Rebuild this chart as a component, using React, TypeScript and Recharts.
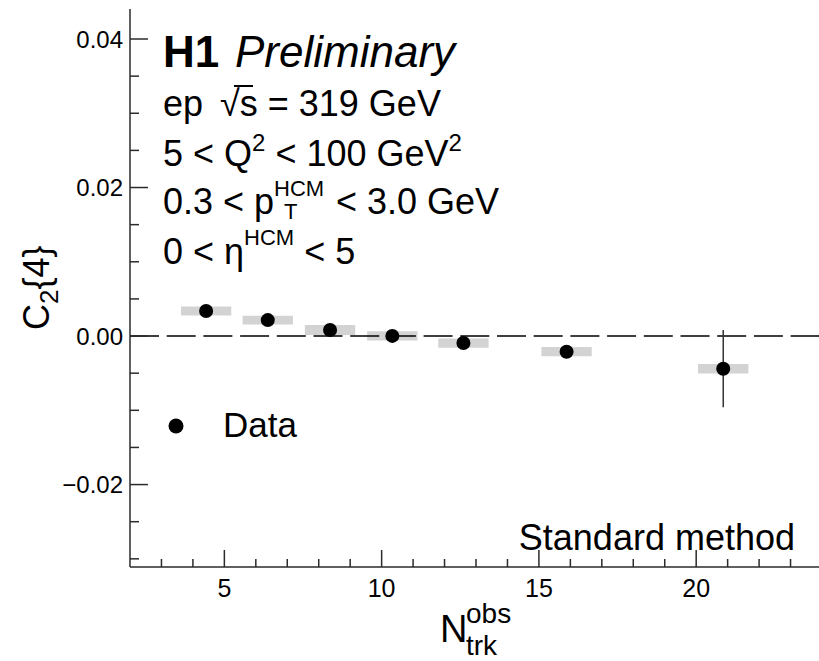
import React from "react";
import { ComposedChart, Scatter, XAxis, YAxis, ErrorBar, ReferenceLine, ReferenceArea } from "recharts";

const nTrk = [4.42, 6.38, 8.36, 10.34, 12.6, 15.88, 20.86];
const c24 = [0.00337, 0.00215, 0.00081, 0.00002, -0.00094, -0.00211, -0.0044];
const statErr = [0.0004, 0.0004, 0.0005, 0.0005, 0.0006, 0.0008, 0.0052];
const sysErr = [0.0006, 0.00058, 0.00067, 0.00062, 0.00062, 0.00062, 0.00065];
const binHalf = [0.8, 0.8, 0.8, 0.8, 0.8, 0.8, 0.8];

// axes
const xTicks = [3, 4, 5, 6, 7, 8, 9, 10, 11, 12, 13, 14, 15, 16, 17, 18, 19, 20, 21, 22, 23];
const xMajor = [5, 10, 15, 20];
const xLabels = ["5", "10", "15", "20"];
const yTicks = [-0.03, -0.025, -0.02, -0.015, -0.01, -0.005, 0, 0.005, 0.01, 0.015, 0.02, 0.025, 0.03, 0.035, 0.04];
const yMajor = [-0.02, 0, 0.02, 0.04];
const yLabels = ["\u22120.02", "0.00", "0.02", "0.04"];

const FONT = "'Liberation Sans', Arial, Helvetica, sans-serif";
const AXIS = "#2b2b2b";

const isMajorY = (v: number) => yMajor.findIndex((m) => Math.abs(m - v) < 1e-9);

function BottomTick({ x, y, payload }: any) {
  const i = xMajor.indexOf(payload.value);
  return (
    <g>
      <line x1={x} x2={x} y1={y} y2={y - (i >= 0 ? 17 : 8)} stroke={AXIS} strokeWidth={1.5} />
      {i >= 0 && (
        <text x={x} y={y + 30} textAnchor="middle" fontSize={25} fontFamily={FONT} fill="#000">
          {xLabels[i]}
        </text>
      )}
    </g>
  );
}

function TopTick({ x, y, payload }: any) {
  const major = xMajor.includes(payload.value);
  return <line x1={x} x2={x} y1={y} y2={y + (major ? 18 : 8)} stroke={AXIS} strokeWidth={1.5} />;
}

function LeftTick({ x, y, payload }: any) {
  const i = isMajorY(payload.value);
  return (
    <g>
      <line x1={x} x2={x + (i >= 0 ? 18 : 9)} y1={y} y2={y} stroke={AXIS} strokeWidth={1.5} />
      {i >= 0 && (
        <text x={x - 7} y={y + 8.5} textAnchor="end" fontSize={24} fontFamily={FONT} fill="#000">
          {yLabels[i]}
        </text>
      )}
    </g>
  );
}

function RightTick({ x, y, payload }: any) {
  const major = isMajorY(payload.value) >= 0;
  return <line x1={x} x2={x - (major ? 18 : 9)} y1={y} y2={y} stroke={AXIS} strokeWidth={1.5} />;
}

const Dot = (props: any) => <circle cx={props.cx} cy={props.cy} r={7} fill="#000" />;

export default function App() {
  const data = nTrk.map((x, i) => ({ x, y: c24[i], err: statErr[i] }));

  return (
    <div style={{ position: "absolute", left: 0, top: 0, width: 819, height: 661, overflow: "hidden", background: "#fff" }}>
      <ComposedChart width={824} height={661} data={data} margin={{ top: 9, right: 2, bottom: 0, left: 0 }}>
        <XAxis
          type="number"
          dataKey="x"
          domain={[2, 24]}
          ticks={xTicks}
          interval={0}
          height={94}
          tickSize={0}
          tickMargin={0}
          tick={BottomTick}
          axisLine={{ stroke: AXIS, strokeWidth: 1.5 }}
          allowDataOverflow
        />
        <XAxis
          xAxisId="top"
          orientation="top"
          type="number"
          dataKey="x"
          domain={[2, 24]}
          ticks={xTicks}
          interval={0}
          height={0}
          tickSize={0}
          tickMargin={0}
          tick={TopTick}
          axisLine={{ stroke: AXIS, strokeWidth: 1.5 }}
          allowDataOverflow
        />
        <YAxis
          type="number"
          domain={[-0.0311, 0.04404]}
          ticks={yTicks}
          interval={0}
          width={130}
          tickSize={0}
          tickMargin={0}
          tick={LeftTick}
          axisLine={{ stroke: AXIS, strokeWidth: 1.5 }}
          allowDataOverflow
        />
        <YAxis
          yAxisId="right"
          orientation="right"
          type="number"
          domain={[-0.0311, 0.04404]}
          ticks={yTicks}
          interval={0}
          width={0}
          tickSize={0}
          tickMargin={0}
          tick={RightTick}
          axisLine={{ stroke: AXIS, strokeWidth: 1.5 }}
          allowDataOverflow
        />

        {/* systematic uncertainty boxes */}
        {nTrk.map((x, i) => (
          <ReferenceArea
            key={i}
            x1={x - binHalf[i]}
            x2={x + binHalf[i]}
            y1={c24[i] - sysErr[i]}
            y2={c24[i] + sysErr[i]}
            fill="#d3d3d3"
            fillOpacity={1}
            stroke="none"
            ifOverflow="visible"
          />
        ))}

        <ReferenceLine y={0} stroke="#000" strokeWidth={1.5} strokeDasharray="29 7.7" />

        <Scatter dataKey="y" shape={Dot} isAnimationActive={false}>
          <ErrorBar dataKey="err" direction="y" width={0} stroke="#333" strokeWidth={1.5} />
        </Scatter>
      </ComposedChart>

      {/* labels */}
      <svg width={819} height={661} style={{ position: "absolute", left: 0, top: 0, pointerEvents: "none" }} fontFamily={FONT}>
        <text x={163} y={67} fontSize={44} fontWeight="bold">H1</text>
        <text x={235} y={67} fontSize={44} fontStyle="italic">Preliminary</text>

        <text x={163} y={116} fontSize={36}>
          ep
          <tspan x={220}>√</tspan>
          <tspan>s = 319 GeV</tspan>
        </text>
        <line x1={234} x2={253} y1={86} y2={86} stroke="#000" strokeWidth={2} />

        <text x={163} y={166} fontSize={36}>
          5 &lt; Q<tspan dy={-15} fontSize={24}>2</tspan>
          <tspan dy={15}> &lt; 100 GeV</tspan>
          <tspan dy={-15} fontSize={24}>2</tspan>
        </text>

        <text x={163} y={214} fontSize={36}>
          0.3 &lt; p
          <tspan dy={-18} fontSize={22}>HCM</tspan>
          <tspan x={284} dy={23} fontSize={22}>T</tspan>
          <tspan x={336} dy={-5}>&lt; 3.0 GeV</tspan>
        </text>

        <text x={163} y={264} fontSize={36}>
          0 &lt; η<tspan dy={-19} fontSize={22}>HCM</tspan>
          <tspan dy={19}> &lt; 5</tspan>
        </text>

        <circle cx={176} cy={426} r={7.5} fill="#000" />
        <text x={223} y={437} fontSize={35}>Data</text>

        <text x={795} y={550} fontSize={36} textAnchor="end">Standard method</text>

        <text x={440} y={642} fontSize={38}>N</text>
        <text x={466} y={623} fontSize={28}>obs</text>
        <text x={466} y={655} fontSize={28}>trk</text>

        <g transform="translate(49,330) rotate(-90)">
          <text x={0} y={0} fontSize={36}>
            C<tspan dy={9} fontSize={26}>2</tspan>
            <tspan dy={-9}>{"{4}"}</tspan>
          </text>
        </g>
      </svg>
    </div>
  );
}
